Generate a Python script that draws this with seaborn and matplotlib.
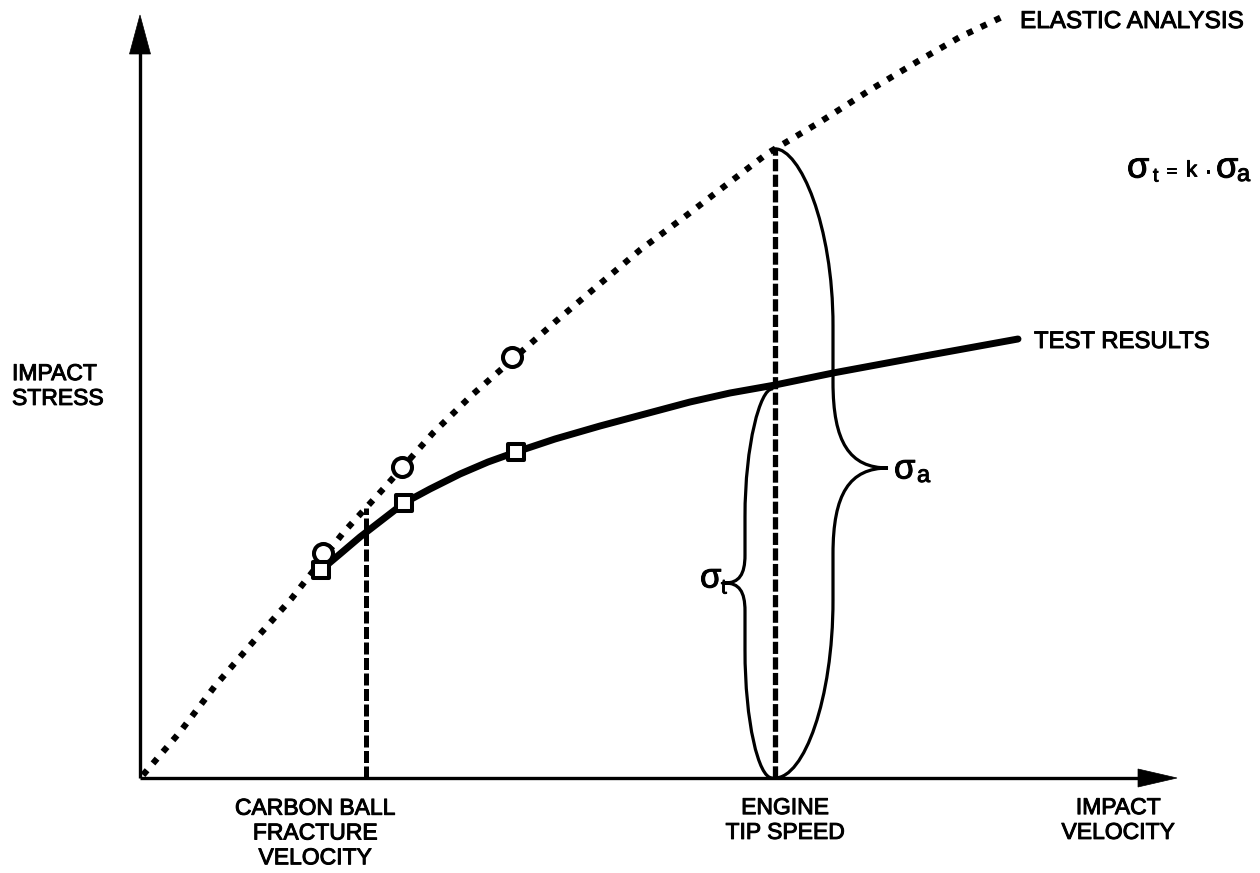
import numpy as np
import matplotlib
matplotlib.use("Agg")
import matplotlib.pyplot as plt
from matplotlib.path import Path
from matplotlib.patches import PathPatch, Polygon
import matplotlib.patheffects as pe
import seaborn as sns
import pandas as pd

sns.set_theme(style="white")
plt.rcParams["font.family"] = ["Liberation Sans", "DejaVu Sans"]
plt.rcParams["text.color"] = "black"
plt.rcParams["mathtext.fontset"] = "custom"
plt.rcParams["mathtext.rm"] = "Liberation Sans"
plt.rcParams["mathtext.it"] = "Liberation Sans"
plt.rcParams["mathtext.sf"] = "Liberation Sans"

# Elastic analysis curve (impact velocity vs impact stress, arbitrary units)
elastic_velocity = [3, 40, 75, 113, 152, 203, 245, 293, 332, 372, 415, 455, 500, 547,
                    590, 628, 680, 730, 780, 820, 862]
elastic_stress = [3, 46, 92, 136, 180, 245, 291, 345, 383, 418, 456, 490, 528, 563,
                  596, 625, 656, 688, 718, 741, 761]

# Test results curve
test_velocity = [181, 200, 220, 242, 264, 290, 320, 348, 376, 415, 460, 505, 550, 590,
                 635, 693, 790, 878]
test_stress = [208, 224, 241, 258, 275, 289, 304, 316, 326, 339, 352, 364, 376, 385,
               393, 405, 423, 439]

# Individual analysis points (circles) and test points (squares)
analysis_pt_velocity = [183, 262, 372]
analysis_pt_stress = [225, 311, 421]
test_pt_velocity = [181, 264, 376]
test_pt_stress = [208, 275, 326]

fracture_velocity = 226
tip_speed = 635

elastic_df = pd.DataFrame({"velocity": elastic_velocity, "stress": elastic_stress})
test_df = pd.DataFrame({"velocity": test_velocity, "stress": test_stress})
analysis_pts = pd.DataFrame({"velocity": analysis_pt_velocity, "stress": analysis_pt_stress})
test_pts = pd.DataFrame({"velocity": test_pt_velocity, "stress": test_pt_stress})

fig = plt.figure(figsize=(12.6, 8.73), dpi=100)
fig.patch.set_facecolor("white")
ax = fig.add_axes([0, 0, 1, 1])
ax.set_xlim(-140, 1120)
ax.set_ylim(-95, 778)
ax.axis("off")

# Axes with arrow heads
ax.plot([0, 0], [0, 726], color="black", lw=2.4, solid_capstyle="butt", zorder=2)
ax.add_patch(Polygon([[-10.5, 724], [10.5, 724], [0, 763]], closed=True,
                     facecolor="black", edgecolor="black", lw=0.5, zorder=2))
ax.plot([0, 1000], [0, 0], color="black", lw=2.4, solid_capstyle="butt", zorder=2)
ax.add_patch(Polygon([[998, -9], [998, 9], [1037, 0]], closed=True,
                     facecolor="black", edgecolor="black", lw=0.5, zorder=2))

# Elastic analysis (dotted) and test results (thick solid)
sns.lineplot(data=elastic_df, x="velocity", y="stress", sort=False, estimator=None,
             color="black", lw=4.5, linestyle=(0, (1, 1.45)), dash_capstyle="butt",
             ax=ax, zorder=3)
sns.lineplot(data=test_df, x="velocity", y="stress", sort=False, estimator=None,
             color="black", lw=5.0, solid_capstyle="round", solid_joinstyle="round",
             ax=ax, zorder=3)

# Dashed reference velocities
frac_top = np.interp(fracture_velocity, elastic_velocity, elastic_stress)
tip_top = np.interp(tip_speed, elastic_velocity, elastic_stress)
ax.plot([fracture_velocity, fracture_velocity], [0, frac_top], color="black",
        lw=3.6, linestyle=(0, (2.4, 0.7)), dash_capstyle="butt", zorder=2)
ax.plot([tip_speed, tip_speed], [0, tip_top], color="black",
        lw=3.8, linestyle=(0, (2.3, 0.65)), dash_capstyle="butt", zorder=2)

# Data points
sns.scatterplot(data=analysis_pts, x="velocity", y="stress", marker="o", s=13.7 ** 2,
                facecolor="white", edgecolor="black", linewidth=2.9, ax=ax, zorder=5)
sns.scatterplot(data=test_pts, x="velocity", y="stress", marker="s", s=12.2 ** 2,
                facecolor="white", edgecolor="black", linewidth=2.9, ax=ax, zorder=5)
ax.set_xlabel("")
ax.set_ylabel("")


def brace(x0, y_top, y_bot, y_tip, dxb, dxt, h_top, h_bot, h_tip, lw):
    xb = x0 + dxb
    xt = x0 + dxt
    verts = [
        (x0, y_top),
        (x0 + 0.43 * dxb, y_top), (xb, y_top - 0.43 * h_top), (xb, y_top - h_top),
        (xb, y_tip + h_tip),
        (xb, y_tip + 0.3 * h_tip), (xb + 0.3 * (dxt - dxb), y_tip), (xt, y_tip),
        (xb + 0.3 * (dxt - dxb), y_tip), (xb, y_tip - 0.3 * h_tip), (xb, y_tip - h_tip),
        (xb, y_bot + h_bot),
        (xb, y_bot + 0.44 * h_bot), (x0 + 0.5 * dxb, y_bot), (x0, y_bot),
    ]
    codes = [Path.MOVETO,
             Path.CURVE4, Path.CURVE4, Path.CURVE4,
             Path.LINETO,
             Path.CURVE4, Path.CURVE4, Path.CURVE4,
             Path.CURVE4, Path.CURVE4, Path.CURVE4,
             Path.LINETO,
             Path.CURVE4, Path.CURVE4, Path.CURVE4]
    ax.add_patch(PathPatch(Path(verts, codes), facecolor="none", edgecolor="black",
                           lw=lw, capstyle="round", joinstyle="miter", zorder=4))


test_at_tip = np.interp(tip_speed, test_velocity, test_stress)
brace(tip_speed, tip_top, 0, 310, 58, 113, 177, 178, 86, 2.3)
brace(tip_speed - 3, test_at_tip - 4, 0, 195, -27, -47, 128, 128, 28, 2.3)

heavy = [pe.withStroke(linewidth=0.7, foreground="black")]
fs = 16.5
ax.text(880, 756, "ELASTIC ANALYSIS", ha="left", va="center", fontsize=17.5,
        path_effects=heavy)
ax.text(894, 436, "TEST RESULTS", ha="left", va="center", fontsize=17.2,
        path_effects=heavy)
ax.text(-128, 392, "IMPACT\nSTRESS", ha="left", va="center", fontsize=fs,
        linespacing=1.1, path_effects=heavy)
ax.text(175, -55, "CARBON BALL\nFRACTURE\nVELOCITY", ha="center", va="center",
        fontsize=fs, linespacing=1.1, path_effects=heavy)
ax.text(645, -42, "ENGINE\nTIP SPEED", ha="center", va="center", fontsize=fs,
        linespacing=1.1, path_effects=heavy)
ax.text(978, -42, "IMPACT\nVELOCITY", ha="center", va="center", fontsize=fs,
        linespacing=1.1, path_effects=heavy)

# Relation between test and analysis stress
ax.text(987, 610, "σ", ha="left", va="center", fontsize=26, path_effects=heavy)
ax.text(1013, 601, "t", ha="left", va="center", fontsize=14, path_effects=heavy)
ax.text(1026, 606, "=", ha="left", va="center", fontsize=13, path_effects=heavy)
ax.text(1046, 607, "k", ha="left", va="center", fontsize=16, path_effects=heavy)
ax.text(1064, 606, "·", ha="left", va="center", fontsize=16, path_effects=heavy)
ax.text(1076, 610, "σ", ha="left", va="center", fontsize=26, path_effects=heavy)
ax.text(1097, 603, "a", ha="left", va="center", fontsize=17, path_effects=heavy)

# Brace labels
ax.text(754, 309, "σ", ha="left", va="center", fontsize=25, path_effects=heavy)
ax.text(777, 302, "a", ha="left", va="center", fontsize=17, path_effects=heavy)
ax.text(560, 200, "σ", ha="left", va="center", fontsize=25, path_effects=heavy)
ax.text(581, 190, "t", ha="left", va="center", fontsize=15, path_effects=heavy)

fig.savefig("out.png", dpi=100, facecolor="white")
